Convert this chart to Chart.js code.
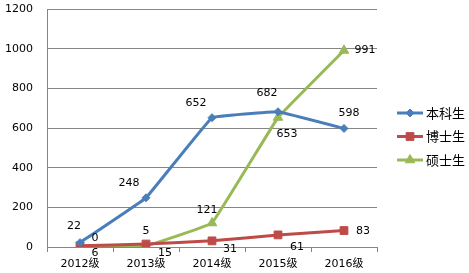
<!DOCTYPE html>
<html>
<head>
<meta charset="utf-8">
<script src="https://cdn.jsdelivr.net/npm/chart.js@4/dist/chart.umd.min.js"></script>
<style>
  html, body { margin: 0; padding: 0; background: #fff; }
  #wrap { width: 469px; height: 273px; position: relative; }
</style>
</head>
<body>
<div id="wrap"><canvas id="c"></canvas></div>
<script>
	'use strict';

	// data
	var categories = ['2012级', '2013级', '2014级', '2015级', '2016级'];
	var seriesNames = ['本科生', '博士生', '硕士生'];
	var undergrad = [22, 248, 652, 682, 598];
	var doctoral = [6, 15, 31, 61, 83];
	var master = [0, 5, 121, 653, 991];
	var yTicks = [0, 200, 400, 600, 800, 1000, 1200];

	// label placement (pixel offsets from each point), style only
	var labelOffsets = [
		[[-6, -16], [-17, -15], [-16, -15], [-11, -19], [5, -15]],
		[[15, 7], [19, 9], [18, 8], [19, 12], [19, 1]],
		[[15, -9], [0, -15], [-5, -13], [9, 17], [21, 0]]
	];

	var colors = ['#4A7EBB', '#BE4B48', '#98B954'];
	var markers = ['rectRot', 'rect', 'triangle'];
	var markerSizes = [4, 5.5, 5.5];
	var font = '"DejaVu Sans", "Noto Sans CJK SC", sans-serif';

	function makeSet(i, values) {
		return {
			label: seriesNames[i],
			data: values,
			borderColor: colors[i],
			backgroundColor: colors[i],
			borderWidth: 3,
			pointStyle: markers[i],
			pointRadius: markerSizes[i],
			pointBorderWidth: 1,
			tension: 0.05
		};
	}

	var dataLabels = {
		id: 'dataLabels',
		afterDatasetsDraw: function (chart) {
			var ctx = chart.ctx;
			ctx.save();
			ctx.font = '11px ' + font;
			ctx.fillStyle = '#000';
			ctx.textAlign = 'center';
			ctx.textBaseline = 'middle';
			chart.data.datasets.forEach(function (ds, i) {
				chart.getDatasetMeta(i).data.forEach(function (pt, j) {
					var off = labelOffsets[i][j];
					ctx.fillText(String(ds.data[j]), pt.x + off[0], pt.y + off[1]);
				});
			});
			ctx.restore();
		}
	};

	var sideLegend = {
		id: 'sideLegend',
		afterDraw: function (chart) {
			var ctx = chart.ctx;
			var x0 = chart.chartArea.right + 20;
			var y0 = 113, step = 23.5;
			ctx.save();
			chart.data.datasets.forEach(function (ds, i) {
				var y = y0 + i * step;
				ctx.strokeStyle = ds.borderColor;
				ctx.lineWidth = 3;
				ctx.beginPath();
				ctx.moveTo(x0, y);
				ctx.lineTo(x0 + 26, y);
				ctx.stroke();
				ctx.fillStyle = ds.borderColor;
				ctx.lineWidth = 1;
				Chart.helpers.drawPoint(ctx, {
					pointStyle: ds.pointStyle,
					radius: ds.pointRadius,
					borderWidth: 1,
					rotation: 0
				}, x0 + 13, y);
				ctx.fillStyle = '#000';
				ctx.font = '13px "Noto Sans CJK SC", sans-serif';
				ctx.textAlign = 'left';
				ctx.textBaseline = 'middle';
				ctx.fillText(ds.label, x0 + 29, y);
			});
			ctx.restore();
		}
	};

	new Chart(document.getElementById('c'), {
		type: 'line',
		data: {
			labels: categories,
			datasets: [makeSet(0, undergrad), makeSet(1, doctoral), makeSet(2, master)]
		},
		options: {
			responsive: true,
			maintainAspectRatio: false,
			animation: false,
			layout: { padding: { top: 9, right: 92, left: 0, bottom: 0 } },
			plugins: {
				legend: { display: false },
				tooltip: { enabled: false }
			},
			scales: {
				x: {
					offset: true,
					grid: {
						offset: true,
						drawOnChartArea: false,
						drawTicks: true,
						tickLength: 5,
						color: '#868686'
					},
					border: { color: '#868686' },
					ticks: { font: { family: font, size: 11 }, color: '#000', padding: 6 },
					afterFit: function (s) { s.height = 26; }
				},
				y: {
					min: 0,
					max: 1200,
					afterBuildTicks: function (s) {
						s.ticks = yTicks.map(function (v) { return { value: v }; });
					},
					grid: { color: '#868686', drawTicks: false },
					border: { color: '#868686' },
					ticks: {
						font: { family: font, size: 11 },
						color: '#000',
						padding: 14,
						callback: function (v) { return String(v); }
					},
					afterFit: function (s) { s.width = 47; s.paddingTop = 0; }
				}
			}
		},
		plugins: [dataLabels, sideLegend]
	});
</script>
</body>
</html>
